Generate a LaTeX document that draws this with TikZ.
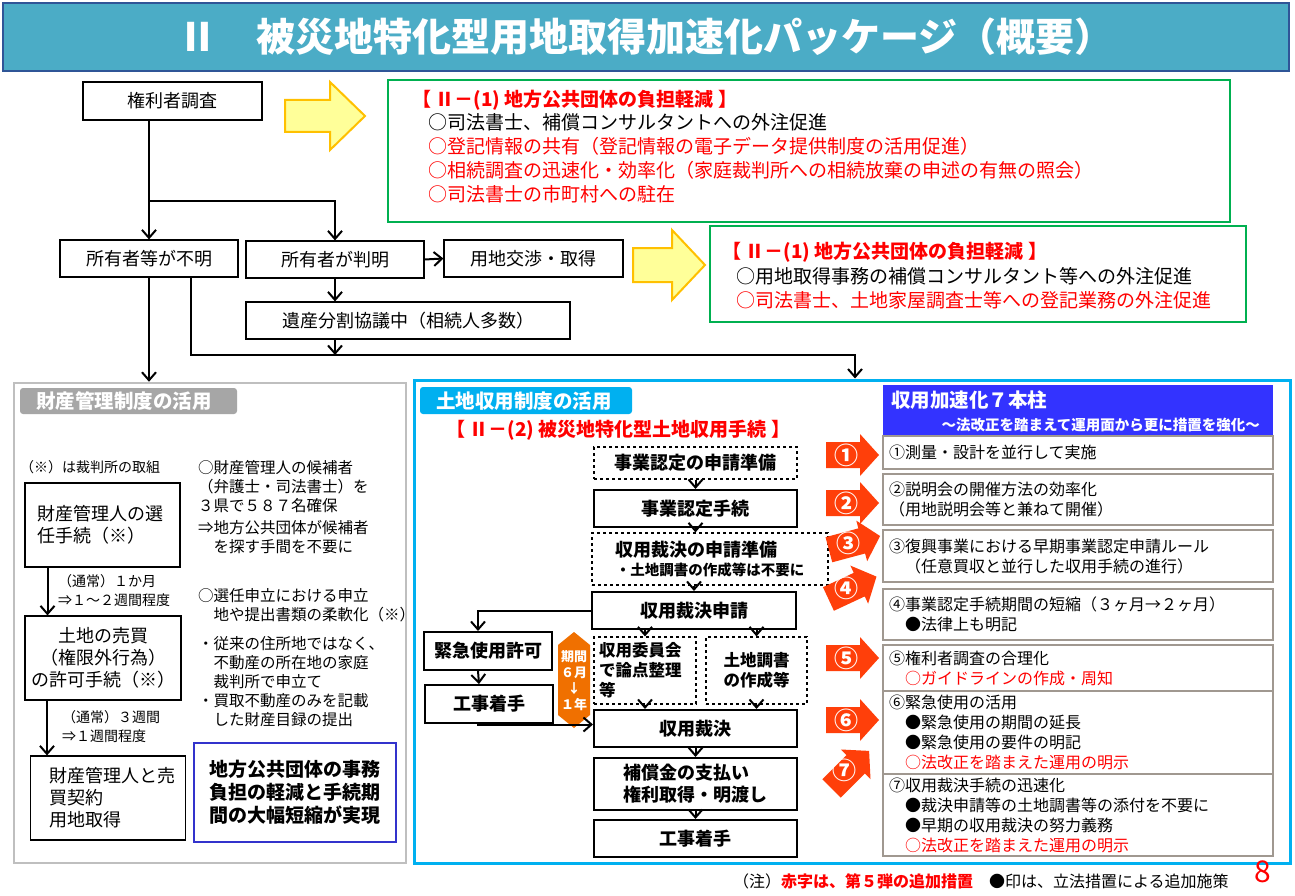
\documentclass[tikz,border=0pt]{standalone}
\usepackage{fontspec}
\setmainfont{Noto Sans CJK JP}
\usetikzlibrary{arrows.meta,calc}
\definecolor{titlebg}{HTML}{4BACC6}
\definecolor{titleline}{HTML}{2F5597}
\definecolor{greenline}{HTML}{00B050}
\definecolor{yellowfill}{HTML}{FFFF99}
\definecolor{yellowline}{HTML}{FFC000}
\definecolor{cyanline}{HTML}{00B0F0}
\definecolor{grayline}{HTML}{BFBFBF}
\definecolor{graytab}{HTML}{A6A6A6}
\definecolor{pillar}{HTML}{3333FF}
\definecolor{navyline}{HTML}{3333CC}
\definecolor{redarrow}{HTML}{FF3F0A}
\definecolor{hexfill}{HTML}{F07000}
\definecolor{itemline}{HTML}{A09890}
\newcommand\fs[2]{\fontsize{#1}{#2}\selectfont}
% red block arrow with circled number
\newcommand\pillararrow[4]{%
  \begin{scope}[shift={(#1,#2)}, rotate=#3]
    \fill[redarrow] (-26,-13) -- (8,-13) -- (8,-21) -- (27,0) -- (8,21) -- (8,13) -- (-26,13) -- cycle;
  \end{scope}
  \node[text=white, font=\fs{24}{24}\bfseries] at (#1-6,#2) {#4};}
\begin{document}
\begin{tikzpicture}[x=1pt, y=-1pt,
    box/.style={draw, line width=1.2pt, inner sep=2pt, font=\fs{18}{22}},
    flow/.style={draw, line width=2pt, inner sep=2pt, font=\fs{18}{22}\bfseries, minimum width=203pt},
    prep/.style={draw, dashed, line width=1.2pt, inner sep=2pt, font=\fs{18}{22}\bfseries},
    item/.style={draw=itemline, line width=1.5pt, fill=white, minimum width=390pt, text width=378pt, align=left, font=\fs{16}{20}},
    arr/.style={line width=2pt, -{Straight Barb[length=8pt,width=14pt,line width=2pt]}},
    note/.style={anchor=north west, align=left, inner sep=0pt, font=\fs{15.5}{19}},
    tab/.style={rounded corners=3pt, text=white, font=\fs{19.5}{19.5}\bfseries, anchor=west, inner sep=0pt}
]
\useasboundingbox (0,0) rectangle (1295,896);
\fill[white] (0,0) rectangle (1295,896);

% Titel
\node[draw=titleline, line width=2pt, fill=titlebg, minimum width=1286pt, minimum height=68pt, inner sep=0pt, text=white, font=\fs{39}{39}\bfseries] (title) at (646,37) {Ⅱ\quad 被災地特化型用地取得加速化パッケージ（概要）};

% oberer Ablauf
\node[box, minimum width=179pt, minimum height=38pt] (kenri) at (172.5,101) {権利者調査};
\node[box, minimum width=178pt, minimum height=37pt] (fumei) at (149,258.5) {所有者等が不明};
\node[box, minimum width=178pt, minimum height=37pt] (hanmei) at (335,259.5) {所有者が判明};
\node[box, minimum width=179pt, minimum height=37pt] (kosho) at (533.5,258.5) {用地交渉・取得};
\node[box, minimum width=324pt, minimum height=37pt] (isan) at (408,320.5) {遺産分割協議中（相続人多数）};

\coordinate (branch) at (fumei.north |- 0,201);
\coordinate (split) at (191,277);
\coordinate (junction) at (855,355);
\draw[arr] (kenri.south -| fumei.north) -- (fumei.north);
\draw[arr] (branch) -| (hanmei.north);
\draw[arr] (hanmei.east) -- (kosho.west);
\draw[arr] (hanmei.south) -- (isan.north -| hanmei.south);
\draw[arr] (isan.south -| hanmei.south) -- (junction -| hanmei.south);

% gelbe Pfeile
\filldraw[fill=yellowfill, draw=yellowline, line width=2pt] (285,100) -- (330,100) -- (330,82) -- (365,116) -- (330,150) -- (330,132) -- (285,132) -- cycle;
\filldraw[fill=yellowfill, draw=yellowline, line width=2pt] (633,248) -- (672,248) -- (672,230) -- (705,265) -- (672,300) -- (672,282) -- (633,282) -- cycle;

% gruene Kaesten
\draw[greenline, line width=2.5pt] (388,80) rectangle (1230,222);
\node[note, text=red, font=\fs{19}{19}\bfseries] (gA) at (412,90) {【 Ⅱ－(1) 地方公共団体の負担軽減 】};
\node[note, font=\fs{19}{24}] (gB) at (428,113) {○司法書士、補償コンサルタントへの外注促進\\
  \textcolor{red}{○登記情報の共有（登記情報の電子データ提供制度の活用促進）}\\
  \textcolor{red}{○相続調査の迅速化・効率化（家庭裁判所への相続放棄の申述の有無の照会）}\\
  \textcolor{red}{○司法書士の市町村への駐在}};
\draw[greenline, line width=2.5pt] (710,226) rectangle (1246,322);
\node[note, text=red, font=\fs{19}{19}\bfseries] (gC) at (722,242) {【 Ⅱ－(1) 地方公共団体の負担軽減 】};
\node[note, font=\fs{19}{24}] (gD) at (736,267) {○用地取得事務の補償コンサルタント等への外注促進\\
  \textcolor{red}{○司法書士、土地家屋調査士等への登記業務の外注促進}};

% Panele
\node[draw=grayline, line width=2.5pt, minimum width=392pt, minimum height=480pt, inner sep=0pt] (zaisan) at (210,623) {};
\node[draw=cyanline, line width=3pt, minimum width=876pt, minimum height=483pt, inner sep=0pt] (shuyo) at (852,621.5) {};
\draw[arr] (fumei.south) -- (fumei.south |- zaisan.north);
\draw[arr] (split) |- (junction) -- (junction |- shuyo.north);

\fill[graytab, rounded corners=3pt] (20,388) rectangle (237,414);
\node[tab] (tabL) at (36,401) {財産管理制度の活用};
\fill[cyanline, rounded corners=3pt] (420,387) rectangle (632,414);
\node[tab] (tabR) at (436,401) {土地収用制度の活用};

%財産管理制度
\node[note, font=\fs{14}{14}] (kome) at (20,460) {（※）は裁判所の取組};
\node[box, minimum width=155pt, minimum height=84pt, text width=130pt, align=left] (k1) at (102.5,525) {財産管理人の選\\任手続（※）};
\node[box, minimum width=156pt, minimum height=84pt, align=center] (k2) at (103,658) {土地の売買\\（権限外行為）\\の許可手続（※）};
\node[box, minimum width=155pt, minimum height=84pt, text width=118pt, align=left] (k3) at (108,798) {財産管理人と売\\買契約\\用地取得};
\draw[arr] ([xshift=-55pt]k1.south) -- ([xshift=-55pt]k1.south |- k2.north);
\draw[arr] ([xshift=-56pt]k2.south) -- ([xshift=-56pt]k2.south |- k3.north);
\node[note, font=\fs{14}{19}] (t1) at (58,574) {（通常）１か月\\⇒１～２週間程度};
\node[note, font=\fs{14}{19}] (t2) at (62,710) {（通常）３週間\\⇒１週間程度};
\node[note] (r1) at (198,460) {○財産管理人の候補者\\（弁護士・司法書士）を\\３県で５８７名確保};
\node[note] (r2) at (198,520) {⇒地方公共団体が候補者\\\quad を探す手間を不要に};
\node[note] (r3) at (198,588) {○選任申立における申立\\\quad 地や提出書類の柔軟化（※）};
\node[note] (r4) at (198,636) {・従来の住所地ではなく、\\\quad 不動産の所在地の家庭\\\quad 裁判所で申立て\\・買取不動産のみを記載\\\quad した財産目録の提出};
\node[draw=navyline, line width=1.5pt, minimum width=202pt, minimum height=99pt, align=left, font=\fs{19}{23}\bfseries] (jitsugen) at (295,792.5) {地方公共団体の事務\\負担の軽減と手続期\\間の大幅短縮が実現};

% 土地収用制度
\node[anchor=west, text=red, font=\fs{19}{19}\bfseries, inner sep=0pt] (sub2) at (446,430) {【 Ⅱ－(2) 被災地特化型土地収用手続 】};
\node[prep, minimum width=203pt, minimum height=32pt] (jn1) at (695.5,463) {事業認定の申請準備};
\node[flow, minimum height=37pt] (jn2) at (695.5,508.5) {事業認定手続};
\node[prep, minimum width=236pt, minimum height=52pt, align=left] (jn3) at (710,559) {収用裁決の申請準備\\[-3pt]{\fs{14.5}{16}・土地調書の作成等は不要に}};
\node[flow, minimum width=204pt, minimum height=37pt] (jn4) at (694,610.5) {収用裁決申請};
\node[prep, minimum width=102pt, minimum height=67pt, text width=92pt, align=left, font=\fs{16.5}{20}\bfseries] (iin) at (645,670.5) {収用委員会\\で論点整理\\等};
\node[prep, minimum width=101pt, minimum height=67pt, align=left, font=\fs{16.5}{20}\bfseries] (chosho) at (756.5,670.5) {土地調書\\の作成等};
\node[flow, minimum height=37pt] (saiketsu) at (695.5,728.5) {収用裁決};
\node[flow, minimum height=52pt, align=left] (hosho) at (695.5,784) {補償金の支払い\\権利取得・明渡し};
\node[flow, minimum height=37pt] (koji2) at (695.5,838.5) {工事着手};
\node[flow, minimum width=128pt, minimum height=38pt] (kinkyu) at (488,651) {緊急使用許可};
\node[flow, minimum width=128pt, minimum height=38pt] (koji1) at (489,704) {工事着手};
\fill[hexfill] (558,645) -- (574,632) -- (590,645) -- (590,715) -- (574,728) -- (558,715) -- cycle;
\node[text=white, align=center, font=\fs{13}{16}\bfseries, inner sep=0pt] (kikan) at (574,681) {期間\\６月\\↓\\１年};

\draw[arr] (jn1.south -| jn2.north) -- (jn2.north);
\draw[arr] (jn2.south) -- (jn2.south |- jn3.north);
\draw[arr] (jn4.north |- jn3.south) -- (jn4.north);
\draw[arr] (jn4.south -| iin.north) -- (iin.north);
\draw[arr] (jn4.south -| chosho.north) -- (chosho.north);
\draw[arr] (iin.south) -- (iin.south |- saiketsu.north);
\draw[arr] (chosho.south) -- (chosho.south |- saiketsu.north);
\draw[arr] (saiketsu.south) -- (hosho.north);
\draw[arr] (hosho.south) -- (koji2.north);
\draw[arr] (jn4.west) -| ([xshift=-10pt]kinkyu.north);
\draw[arr] ([xshift=-10pt]kinkyu.south) -- ([xshift=-10pt]koji1.north);
\draw[arr] ([xshift=-11pt]koji1.south) |- ([yshift=4pt]saiketsu.west);

% 収用加速化７本柱
\node[fill=pillar, minimum width=390pt, minimum height=50pt, inner sep=0pt] (pillars) at (1078,410) {};
\node[anchor=west, text=white, font=\fs{19.5}{19.5}\bfseries, inner sep=0pt] (pillarsT) at (891,400) {収用加速化７本柱};
\node[anchor=east, text=white, font=\fs{14.5}{14.5}\bfseries, inner sep=0pt] (pillarsS) at (1260,425) {～法改正を踏まえて運用面から更に措置を強化～};
\node[item, minimum height=33pt] (p1) at (1078,452.5) {①測量・設計を並行して実施};
\node[item, minimum height=51pt] (p2) at (1078,499.5) {②説明会の開催方法の効率化\\（用地説明会等と兼ねて開催）};
\node[item, minimum height=52pt] (p3) at (1078,556) {③復興事業における早期事業認定申請ルール\\\quad（任意買収と並行した収用手続の進行）};
\node[item, minimum height=51pt] (p4) at (1078,614.5) {④事業認定手続期間の短縮（３ヶ月→２ヶ月）\\\quad ●法律上も明記};
\node[item, minimum height=46pt] (p5) at (1078,668) {⑤権利者調査の合理化\\\quad\textcolor{red}{○ガイドラインの作成・周知}};
\node[item, minimum height=79pt] (p6) at (1078,732.5) {⑥緊急使用の活用\\\quad ●緊急使用の期間の延長\\\quad ●緊急使用の要件の明記\\\quad\textcolor{red}{○法改正を踏まえた運用の明示}};
\node[item, minimum height=80pt] (p7) at (1078,815) {⑦収用裁決手続の迅速化\\\quad ●裁決申請等の土地調書等の添付を不要に\\\quad ●早期の収用裁決の努力義務\\\quad\textcolor{red}{○法改正を踏まえた運用の明示}};

\pillararrow{852}{455}{0}{①}
\pillararrow{852}{503}{0}{②}
\pillararrow{854}{543}{15}{③}
\pillararrow{852}{588}{25}{④}
\pillararrow{852}{658}{0}{⑤}
\pillararrow{852}{720}{0}{⑥}
\pillararrow{850}{770}{45}{⑦}

% Fussnote
\node[anchor=west, inner sep=0pt, font=\fs{16}{16}] (footnote) at (733,881) {（注）\textcolor{red}{\bfseries 赤字は、第５弾の追加措置}\quad ●印は、立法措置による追加施策};
\node[text=red, font=\fs{30}{30}, inner sep=0pt] (pageno) at (1263,872) {8};
\end{tikzpicture}
\end{document}
